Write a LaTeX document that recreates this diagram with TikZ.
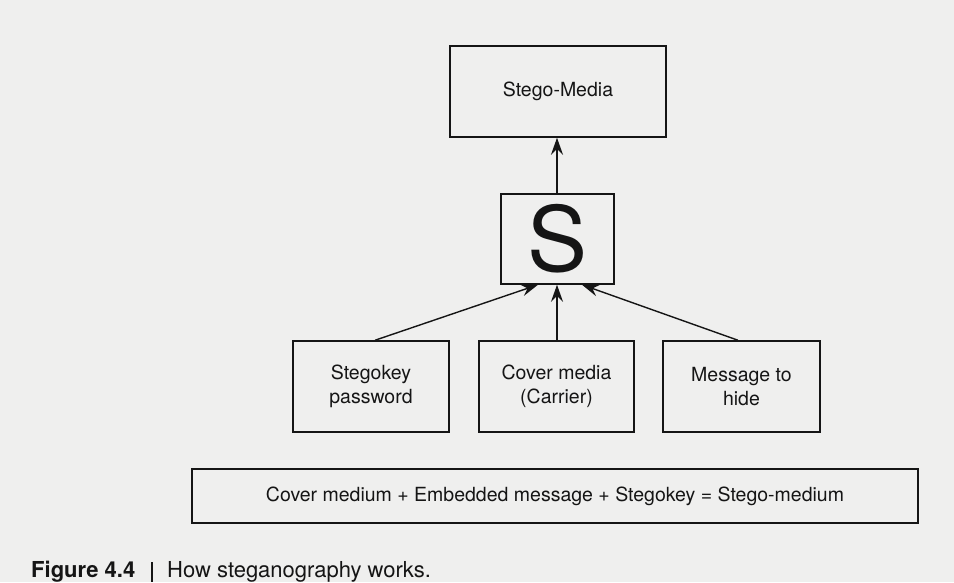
\documentclass[tikz,border=0pt]{standalone}
\usepackage{fontspec}
\setmainfont{TeX Gyre Heros}
\usetikzlibrary{arrows.meta}
\definecolor{paper}{HTML}{EFEFEE}
\definecolor{ink}{HTML}{151515}
\tikzset{
  box/.style={draw=ink, line width=1.5pt, inner sep=0pt, align=center, text=ink,
    font=\fontsize{19.5}{24}\selectfont},
  arr/.style={draw=ink, line width=1.4pt, -{Stealth[length=17pt,width=12pt,inset=6pt]}},
}
\begin{document}
\begin{tikzpicture}[x=1pt,y=-1pt]
\useasboundingbox (0,0) rectangle (954,582);
\fill[paper] (0,0) rectangle (954,582);
\node[box, minimum width=216pt, minimum height=91pt] (media) at (558,91.5) {Stego-Media};
\node[box, minimum width=113pt, minimum height=90pt, font=\fontsize{90}{90}\selectfont] (s) at (557.5,239) {S};
\node[box, minimum width=156pt, minimum height=91pt] (key) at (371,386.5) {Stegokey\\password};
\node[box, minimum width=155pt, minimum height=91pt] (cover) at (556.5,386.5) {Cover media\\(Carrier)};
\node[box, minimum width=157pt, minimum height=91pt] (msg) at (741.5,386.5) {Message to\\hide};
\node[box, minimum width=726pt, minimum height=54pt] (eq) at (555,496) {Cover medium + Embedded message + Stegokey = Stego-medium};
\draw[arr] (key.north -| 375,0) -- (s.south -| 538,0);
\draw[arr] (cover.north -| 557,0) -- (s.south -| 557,0);
\draw[arr] (msg.north -| 738,0) -- (s.south -| 582,0);
\draw[arr] (s.north -| 557,0) -- (media.south -| 557,0);
\node[anchor=west, inner sep=0pt, text=ink, font=\fontsize{22}{24}\bfseries\selectfont] (fig) at (31,572) {Figure 4.4};
\coordinate (bartop) at (152,562);
\coordinate (barbot) at (152,582);
\draw[ink, line width=1.2pt] (bartop) -- (barbot);
\node[anchor=west, inner sep=0pt, text=ink, font=\fontsize{22}{24}\selectfont] (cap) at (167,572) {How steganography works.};
\end{tikzpicture}
\end{document}
